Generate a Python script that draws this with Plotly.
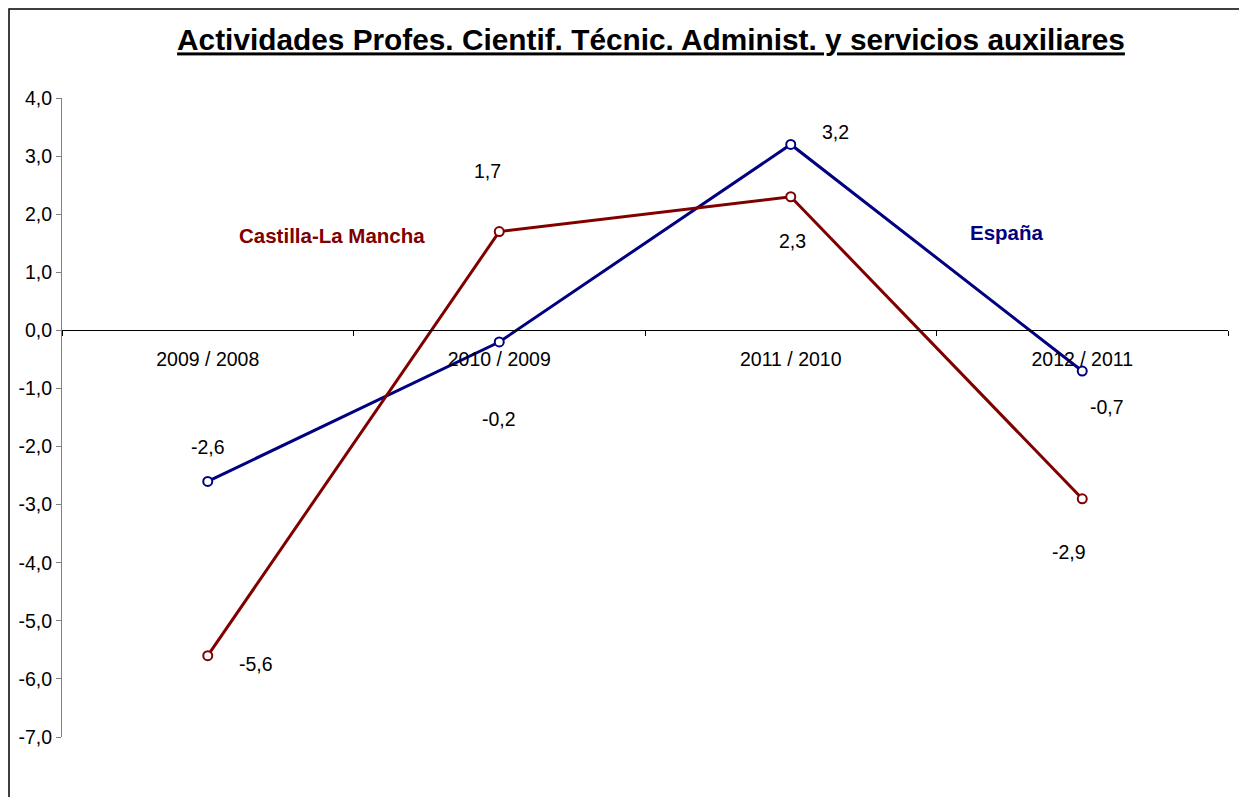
import plotly.graph_objects as go

categories = ["2009 / 2008", "2010 / 2009", "2011 / 2010", "2012 / 2011"]
espana = [-2.6, -0.2, 3.2, -0.7]
clm = [-5.6, 1.7, 2.3, -2.9]
y_ticks = [4, 3, 2, 1, 0, -1, -2, -3, -4, -5, -6, -7]

BLUE = "#000080"
RED = "#800000"
FONT = "Liberation Sans, Arial, sans-serif"

# page has an 8px body margin; figure coords = page coords - 8
OFF = 8
W, H = 1247 - 2 * OFF, 805 - 2 * OFF
L, T = 62 - OFF, 98 - OFF
R = W - (1228 - OFF)
B = H - (737 - OFF)
pw, ph = W - L - R, H - T - B


def fmt(v):
    return f"{v:.1f}".replace(".", ",").replace("−", "-")


fig = go.Figure()
for name, vals, col in [("España", espana, BLUE), ("Castilla-La Mancha", clm, RED)]:
    fig.add_trace(go.Scatter(
        x=categories, y=vals, mode="lines+markers", name=name,
        line=dict(color=col, width=3),
        marker=dict(symbol="circle", size=9, color="white", line=dict(color=col, width=2)),
        showlegend=False, hoverinfo="skip",
    ))

# label offsets (pixels) for data labels
esp_off = [(0, 34), (0, -77), (45, 12), (25, -36)]
clm_off = [(48, -8), (-12, 61), (2, -44), (-13, -53)]

for vals, offs in [(espana, esp_off), (clm, clm_off)]:
    for c, v, (dx, dy) in zip(categories, vals, offs):
        fig.add_annotation(x=c, y=v, text=fmt(v), showarrow=False,
                           xshift=dx, yshift=dy, xanchor="center", yanchor="middle",
                           font=dict(family=FONT, size=19.5, color="black"))

fig.add_annotation(xref="paper", yref="paper", x=(332 - 62) / pw, y=(737 - 235) / ph,
                   text="<b>Castilla-La Mancha</b>", showarrow=False,
                   xanchor="center", yanchor="middle",
                   font=dict(family=FONT, size=20.5, color=RED))
fig.add_annotation(xref="paper", yref="paper", x=(1007 - 62) / pw, y=(737 - 232) / ph,
                   text="<b>España</b>", showarrow=False,
                   xanchor="center", yanchor="middle",
                   font=dict(family=FONT, size=20.5, color=BLUE))

# outer frame (page 9,9 → extends beyond right/bottom)
fig.add_shape(type="rect", xref="paper", yref="paper",
              x0=(9 - 62) / pw, x1=(1260 - 62) / pw,
              y0=(737 - 820) / ph, y1=(737 - 9) / ph,
              line=dict(color="black", width=1.5), fillcolor="rgba(0,0,0,0)", layer="below")

fig.update_layout(
    width=W, height=H,
    margin=dict(l=L, r=R, t=T, b=B),
    paper_bgcolor="white", plot_bgcolor="white",
    title=dict(text="<b><u>Actividades Profes. Cientif. Técnic. Administ. y servicios auxiliares</u></b>",
               x=(651 - OFF) / W, xanchor="center", xref="container",
               y=1 - (40 - OFF) / H, yanchor="middle", yref="container",
               font=dict(family=FONT, size=29.8, color="black")),
    xaxis=dict(
        type="category", range=[-0.5, 3.5],
        anchor="free", position=7 / 11,
        showline=True, linecolor="black", linewidth=1,
        ticks="outside", tickson="boundaries", ticklen=5, tickcolor="black",
        showgrid=False, zeroline=False,
        ticklabelstandoff=11,
        tickfont=dict(family=FONT, size=19.5, color="black"),
    ),
    yaxis=dict(
        range=[-7, 4], tickvals=y_ticks, ticktext=[fmt(v) for v in y_ticks],
        showline=True, linecolor="#808080", linewidth=1,
        ticks="outside", ticklen=5, tickcolor="#808080",
        showgrid=False, zeroline=False,
        tickfont=dict(family=FONT, size=19.5, color="black"),
    ),
)

fig.write_html("out.html")
